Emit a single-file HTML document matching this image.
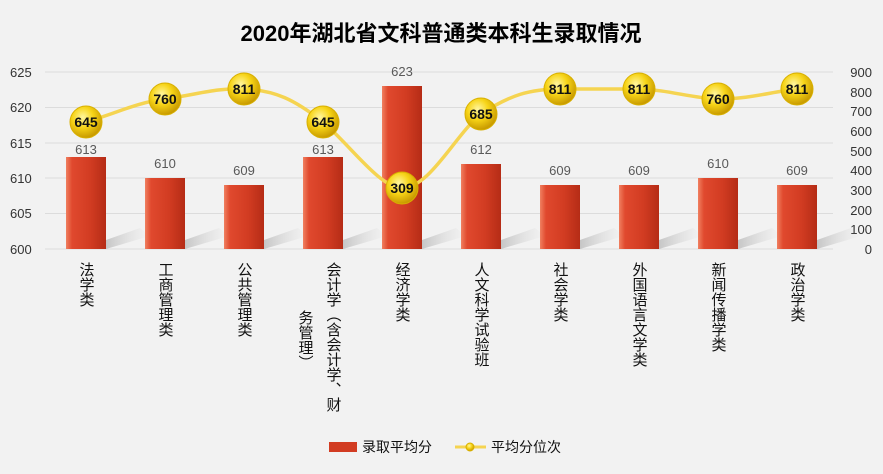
<!DOCTYPE html>
<html><head><meta charset="utf-8"><style>
body{margin:0;background:#f2f2f2;}
svg{display:block;font-family:"Liberation Sans","Noto Sans CJK SC",sans-serif;}
</style></head><body>
<svg width="883" height="474" viewBox="0 0 883 474">
<defs>
<linearGradient id="bar" x1="0" x2="1" y1="0" y2="0">
<stop offset="0" stop-color="#f08060"/><stop offset="0.15" stop-color="#e0492e"/><stop offset="0.6" stop-color="#d23c22"/><stop offset="1" stop-color="#b52c16"/>
</linearGradient>
<radialGradient id="ball" cx="0.4" cy="0.35" r="0.65">
<stop offset="0" stop-color="#fff6a0"/><stop offset="0.5" stop-color="#f7d417"/><stop offset="1" stop-color="#c89a00"/>
</radialGradient>
<linearGradient id="shad" x1="0" x2="1"><stop offset="0" stop-color="#999" stop-opacity="0.5"/><stop offset="1" stop-color="#ccc" stop-opacity="0"/></linearGradient>
</defs>
<rect width="883" height="474" fill="#f2f2f2"/>
<text x="441" y="41" text-anchor="middle" font-size="22" font-weight="bold" fill="#000">2020年湖北省文科普通类本科生录取情况</text>
<g stroke="#dcdcdc" stroke-width="1">
<line x1="45" x2="833" y1="72" y2="72"/><line x1="45" x2="833" y1="107.5" y2="107.5"/><line x1="45" x2="833" y1="143" y2="143"/><line x1="45" x2="833" y1="178" y2="178"/><line x1="45" x2="833" y1="213.5" y2="213.5"/><line x1="45" x2="833" y1="249" y2="249"/>
</g>
<g font-size="13" fill="#333" text-anchor="start">
<text x="10" y="77">625</text><text x="10" y="112">620</text><text x="10" y="148">615</text><text x="10" y="183">610</text><text x="10" y="218">605</text><text x="10" y="254">600</text>
</g>
<g font-size="13" fill="#333" text-anchor="end">
<text x="872" y="77">900</text><text x="872" y="97">800</text><text x="872" y="116">700</text><text x="872" y="136">600</text><text x="872" y="156">500</text><text x="872" y="175">400</text><text x="872" y="195">300</text><text x="872" y="215">200</text><text x="872" y="234">100</text><text x="872" y="254">0</text>
</g>
<g id="bars">
<!-- bars: y = 249 - (v-600)*7.08 -->
<g><polygon points="106,249 150,236 140,228 106,240" fill="url(#shad)"/><rect x="66" y="157" width="40" height="92" fill="url(#bar)"/></g>
<g><polygon points="185,249 229,236 219,228 185,240" fill="url(#shad)"/><rect x="145" y="178" width="40" height="71" fill="url(#bar)"/></g>
<g><polygon points="264,249 308,236 298,228 264,240" fill="url(#shad)"/><rect x="224" y="185" width="40" height="64" fill="url(#bar)"/></g>
<g><polygon points="343,249 387,236 377,228 343,240" fill="url(#shad)"/><rect x="303" y="157" width="40" height="92" fill="url(#bar)"/></g>
<g><polygon points="422,249 466,236 456,228 422,240" fill="url(#shad)"/><rect x="382" y="86" width="40" height="163" fill="url(#bar)"/></g>
<g><polygon points="501,249 545,236 535,228 501,240" fill="url(#shad)"/><rect x="461" y="164" width="40" height="85" fill="url(#bar)"/></g>
<g><polygon points="580,249 624,236 614,228 580,240" fill="url(#shad)"/><rect x="540" y="185" width="40" height="64" fill="url(#bar)"/></g>
<g><polygon points="659,249 703,236 693,228 659,240" fill="url(#shad)"/><rect x="619" y="185" width="40" height="64" fill="url(#bar)"/></g>
<g><polygon points="738,249 782,236 772,228 738,240" fill="url(#shad)"/><rect x="698" y="178" width="40" height="71" fill="url(#bar)"/></g>
<g><polygon points="817,249 861,236 851,228 817,240" fill="url(#shad)"/><rect x="777" y="185" width="40" height="64" fill="url(#bar)"/></g>
</g>
<g font-size="13" fill="#595959" text-anchor="middle">
<text x="86" y="154">613</text><text x="165" y="168">610</text><text x="244" y="175">609</text><text x="323" y="154">613</text><text x="402" y="76">623</text><text x="481" y="154">612</text><text x="560" y="175">609</text><text x="639" y="175">609</text><text x="718" y="168">610</text><text x="797" y="175">609</text>
</g>
<path d="M86,122 C120,112 135,103 165,99 C200,94 215,88 244,89 C275,90 295,100 323,122 C350,145 380,188 402,188 C430,188 455,135 481,114 C510,95 530,89 560,89 C590,89 610,89 639,89 C670,90 690,98 718,99 C750,99 770,92 797,89" fill="none" stroke="#f5d451" stroke-width="3.5"/>
<g font-size="14" font-weight="bold" fill="#111" text-anchor="middle">
<circle cx="86" cy="122" r="16" fill="url(#ball)" stroke="#d8b000"/><text x="86" y="127">645</text>
<circle cx="165" cy="99" r="16" fill="url(#ball)" stroke="#d8b000"/><text x="165" y="104">760</text>
<circle cx="244" cy="89" r="16" fill="url(#ball)" stroke="#d8b000"/><text x="244" y="94">811</text>
<circle cx="323" cy="122" r="16" fill="url(#ball)" stroke="#d8b000"/><text x="323" y="127">645</text>
<circle cx="402" cy="188" r="16" fill="url(#ball)" stroke="#d8b000"/><text x="402" y="193">309</text>
<circle cx="481" cy="114" r="16" fill="url(#ball)" stroke="#d8b000"/><text x="481" y="119">685</text>
<circle cx="560" cy="89" r="16" fill="url(#ball)" stroke="#d8b000"/><text x="560" y="94">811</text>
<circle cx="639" cy="89" r="16" fill="url(#ball)" stroke="#d8b000"/><text x="639" y="94">811</text>
<circle cx="718" cy="99" r="16" fill="url(#ball)" stroke="#d8b000"/><text x="718" y="104">760</text>
<circle cx="797" cy="89" r="16" fill="url(#ball)" stroke="#d8b000"/><text x="797" y="94">811</text>
</g>
<g font-size="15" fill="#111" style="writing-mode:vertical-rl;glyph-orientation-vertical:0">
<text x="86" y="262">法学类</text>
<text x="165" y="262">工商管理类</text>
<text x="244" y="262">公共管理类</text>
<text x="333" y="262">会计学（含会计学、财</text>
<text x="305" y="310">务管理）</text>
<text x="402" y="262">经济学类</text>
<text x="481" y="262">人文科学试验班</text>
<text x="560" y="262">社会学类</text>
<text x="639" y="262">外国语言文学类</text>
<text x="718" y="262">新闻传播学类</text>
<text x="797" y="262">政治学类</text>
</g>
<rect x="329" y="442" width="28" height="10" fill="#d23c22"/>
<text x="362" y="452" font-size="14" fill="#111">录取平均分</text>
<line x1="455" x2="486" y1="447" y2="447" stroke="#f5d451" stroke-width="3"/>
<circle cx="470" cy="447" r="4" fill="url(#ball)" stroke="#d8b000"/>
<text x="491" y="452" font-size="14" fill="#111">平均分位次</text>
</svg>
</body></html>
